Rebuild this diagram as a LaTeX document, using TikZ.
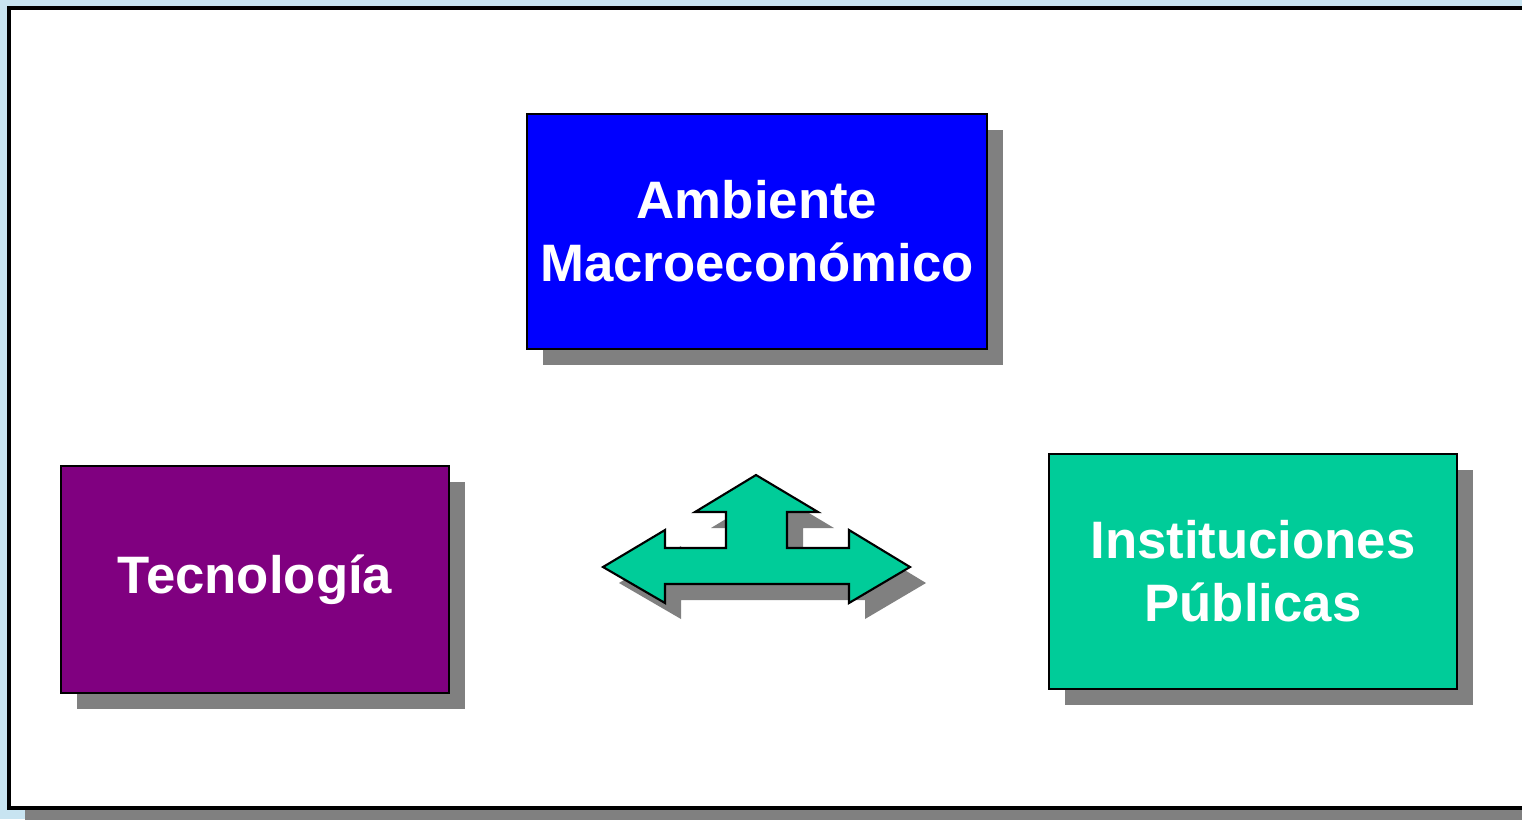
\documentclass[tikz,border=0pt]{standalone}
\usepackage{fontspec}
\setsansfont{Liberation Sans}
\usetikzlibrary{shadows}

\definecolor{skyback}{RGB}{200,228,241}
\definecolor{boxblue}{RGB}{0,0,255}
\definecolor{boxpurple}{RGB}{128,0,128}
\definecolor{boxgreen}{RGB}{0,204,153}
\definecolor{shadowgray}{RGB}{128,128,128}

\begin{document}
\begin{tikzpicture}[x=0.02cm, y=-0.02cm,
                    main box/.style={rectangle,draw=black,line width=1.2pt,inner sep=0pt,outer sep=0pt,
                                     align=center,text=white,font=\sffamily\bfseries\fontsize{30}{36}\selectfont,
                                     drop shadow={shadow xshift=0.32cm,shadow yshift=-0.32cm,fill=shadowgray,opacity=1}}]

  % background and frame
  \fill[skyback] (0,0) rectangle (1522,819);
  \useasboundingbox (0,0) rectangle (1522,819);
  \fill[shadowgray] (25,24) rectangle (1546,830);
  \draw[fill=white,line width=1.8pt] (9,8) rectangle (1540,808);

  \node[main box,fill=boxblue,minimum width=9.2cm,minimum height=4.7cm] (macro) at (757,231.5) {Ambiente\\Macroeconómico};
  \node[main box,fill=boxpurple,minimum width=7.76cm,minimum height=4.54cm] (tecno) at (255,579.5) {Tecnología};
  \node[main box,fill=boxgreen,minimum width=8.16cm,minimum height=4.7cm] (inst) at (1253,571.5) {Instituciones\\Públicas};

  % three way arrow
  \fill[shadowgray,shift={(16,16)}] (756,475) -- (818,512) -- (787,512) -- (787,548) -- (849,548) -- (849,530)
    -- (910,567) -- (849,603) -- (849,584) -- (665,584) -- (665,603) -- (603,567) -- (665,530) -- (665,548)
    -- (726,548) -- (726,512) -- (695,512) -- cycle;
  \draw[fill=boxgreen,line width=1.2pt,line join=miter] (756,475) -- (818,512) -- (787,512) -- (787,548) -- (849,548) -- (849,530)
    -- (910,567) -- (849,603) -- (849,584) -- (665,584) -- (665,603) -- (603,567) -- (665,530) -- (665,548)
    -- (726,548) -- (726,512) -- (695,512) -- cycle;

\end{tikzpicture}
\end{document}
